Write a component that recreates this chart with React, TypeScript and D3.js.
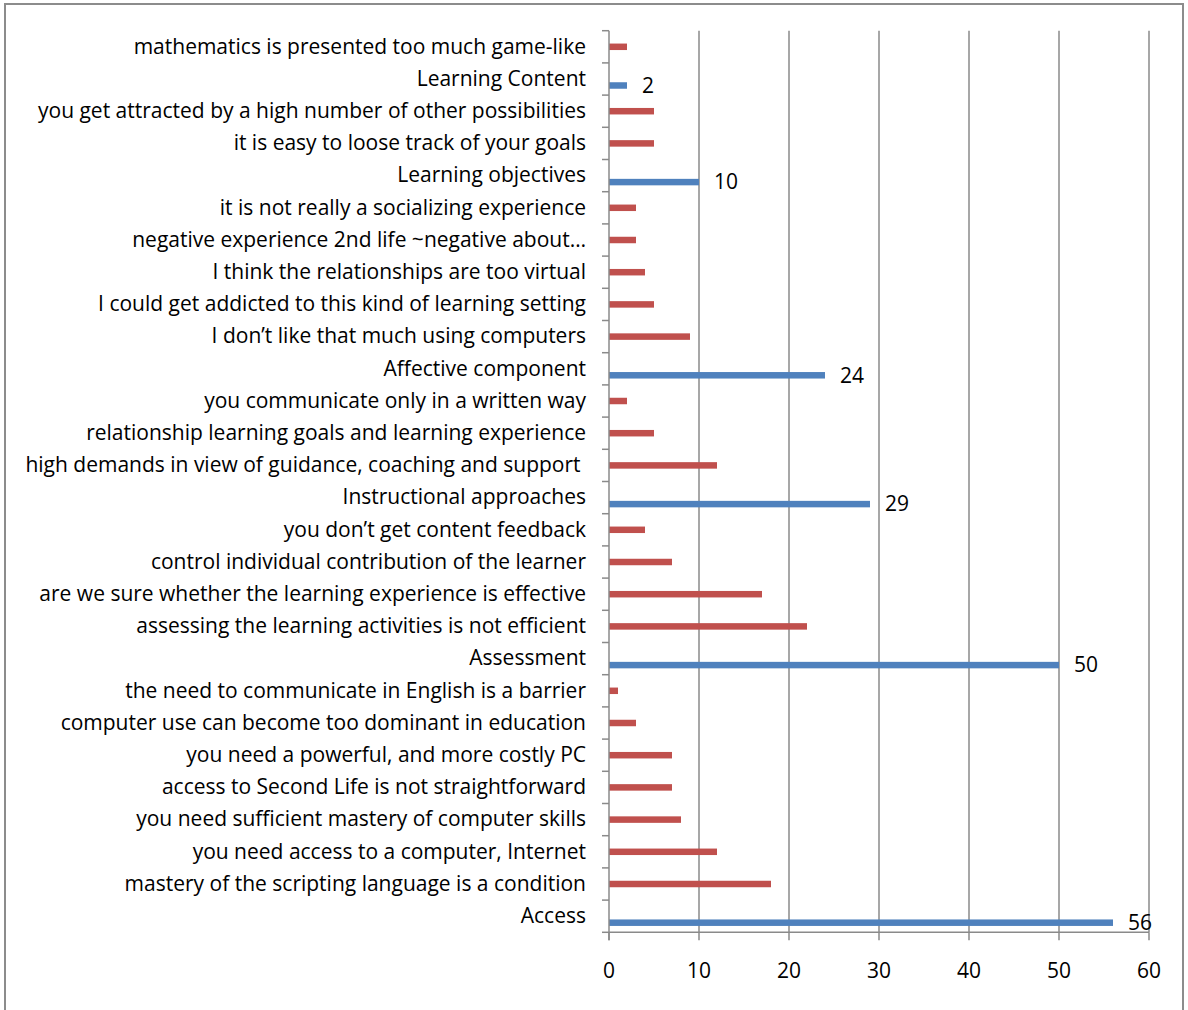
import React, { useEffect, useRef } from 'react';
import * as d3 from 'd3';

// rows, top to bottom
const categories = [
  'mathematics is presented too much game-like',
  'Learning Content',
  'you get attracted by a high number of other possibilities',
  'it is easy to loose track of your goals',
  'Learning objectives',
  'it is not really a socializing experience',
  'negative experience 2nd life ~negative about…',
  'I think the relationships are too virtual',
  'I could get addicted to this kind of learning setting',
  'I don’t like that much using computers',
  'Affective component',
  'you communicate only in a written way',
  'relationship learning goals and learning experience',
  'high demands in view of guidance, coaching and support ',
  'Instructional approaches',
  'you don’t get content feedback',
  'control individual contribution of the learner',
  'are we sure whether the learning experience is effective',
  'assessing the learning activities is not efficient',
  'Assessment',
  'the need to communicate in English is a barrier',
  'computer use can become too dominant in education',
  'you need a powerful, and more costly PC',
  'access to Second Life is not straightforward',
  'you need sufficient mastery of computer skills',
  'you need access to a computer, Internet',
  'mastery of the scripting language is a condition',
  'Access',
];

// blue series: group totals (0 where the row is a sub item)
const groupValues = [0, 2, 0, 0, 10, 0, 0, 0, 0, 0, 24, 0, 0, 0, 29, 0, 0, 0, 0, 50, 0, 0, 0, 0, 0, 0, 0, 56];
// red series: sub items
const itemValues = [2, 0, 5, 5, 0, 3, 3, 4, 5, 9, 0, 2, 5, 12, 0, 4, 7, 17, 22, 0, 1, 3, 7, 7, 8, 12, 18, 0];

const xTicks = [0, 10, 20, 30, 40, 50, 60];

const FONT = "'Open Sans', Lato, sans-serif";
const FONT_SIZE = '21px';

const App = () => {
  const ref = useRef<SVGSVGElement | null>(null);

  useEffect(() => {
    document.body.style.margin = '0';
    const svg = d3.select(ref.current);
    svg.selectAll('*').remove();

    const width = 1188;
    const height = 1010;
    const plot = { left: 609, right: 1149, top: 30.7, bottom: 932.3 };

    // border
    svg.append('rect')
      .attr('x', 5)
      .attr('y', 4)
      .attr('width', 1178)
      .attr('height', 1012)
      .attr('fill', 'white')
      .attr('stroke', '#8c8c8c')
      .attr('stroke-width', 2);

    const x = d3.scaleLinear().domain([0, 60]).range([plot.left, plot.right]);
    const y = d3.scaleBand<number>()
      .domain(d3.range(categories.length))
      .range([plot.top, plot.bottom])
      .padding(0);
    // three slots per row like the excel cluster (top slot empty)
    const slot = d3.scaleBand<string>()
      .domain(['empty', 'item', 'group'])
      .range([0, y.bandwidth()])
      .paddingInner(0)
      .paddingOuter(0.98);

    // grid lines
    svg.append('g')
      .selectAll('line')
      .data(xTicks.slice(1))
      .join('line')
      .attr('x1', d => x(d))
      .attr('x2', d => x(d))
      .attr('y1', plot.top)
      .attr('y2', plot.bottom)
      .attr('stroke', '#8a8a8a')
      .attr('stroke-width', 1.5);

    // bars
    svg.append('g')
      .selectAll('rect')
      .data(itemValues.map((v, i) => ({ v, i })).filter(d => d.v > 0))
      .join('rect')
      .attr('x', x(0))
      .attr('y', d => (y(d.i) as number) + (slot('item') as number))
      .attr('width', d => x(d.v) - x(0))
      .attr('height', slot.bandwidth())
      .attr('fill', '#C0504D');

    const groups = groupValues.map((v, i) => ({ v, i })).filter(d => d.v > 0);
    svg.append('g')
      .selectAll('rect')
      .data(groups)
      .join('rect')
      .attr('x', x(0))
      .attr('y', d => (y(d.i) as number) + (slot('group') as number))
      .attr('width', d => x(d.v) - x(0))
      .attr('height', slot.bandwidth())
      .attr('fill', '#4F81BD');

    // data labels
    svg.append('g')
      .selectAll('text')
      .data(groups)
      .join('text')
      .attr('x', d => x(d.v) + 15)
      .attr('y', d => (y(d.i) as number) + (slot('group') as number) + slot.bandwidth() / 2)
      .attr('dy', '0.35em')
      .style('font-family', FONT)
      .style('font-size', FONT_SIZE)
      .style('fill', '#000')
      .text(d => d.v);

    // y axis
    svg.append('line')
      .attr('x1', plot.left).attr('x2', plot.left)
      .attr('y1', plot.top).attr('y2', plot.bottom + 8)
      .attr('stroke', '#8a8a8a').attr('stroke-width', 1.5);
    svg.append('g')
      .selectAll('line')
      .data(d3.range(categories.length + 1))
      .join('line')
      .attr('x1', plot.left - 7)
      .attr('x2', plot.left)
      .attr('y1', d => plot.top + d * y.step())
      .attr('y2', d => plot.top + d * y.step())
      .attr('stroke', '#8a8a8a').attr('stroke-width', 1.5);

    svg.append('g')
      .selectAll('text')
      .data(categories)
      .join('text')
      .attr('x', plot.left - 23)
      .attr('y', (d, i) => (y(i) as number) + y.bandwidth() / 2)
      .attr('dy', '0.32em')
      .attr('text-anchor', 'end')
      .style('white-space', 'pre')
      .style('font-family', FONT)
      .style('font-size', FONT_SIZE)
      .style('fill', '#000')
      .text(d => d);

    // x axis
    svg.append('line')
      .attr('x1', plot.left).attr('x2', plot.right)
      .attr('y1', plot.bottom).attr('y2', plot.bottom)
      .attr('stroke', '#8a8a8a').attr('stroke-width', 1.5);
    svg.append('g')
      .selectAll('line')
      .data(xTicks)
      .join('line')
      .attr('x1', d => x(d)).attr('x2', d => x(d))
      .attr('y1', plot.bottom).attr('y2', plot.bottom + 8)
      .attr('stroke', '#8a8a8a').attr('stroke-width', 1.5);
    svg.append('g')
      .selectAll('text')
      .data(xTicks)
      .join('text')
      .attr('x', d => x(d))
      .attr('y', 971)
      .attr('dy', '0.35em')
      .attr('text-anchor', 'middle')
      .style('font-family', FONT)
      .style('font-size', FONT_SIZE)
      .style('fill', '#000')
      .text(d => d);

    svg.attr('width', width).attr('height', height);
  }, []);

  return <svg ref={ref} width={1188} height={1010} style={{ display: 'block' }} />;
};

export default App;
